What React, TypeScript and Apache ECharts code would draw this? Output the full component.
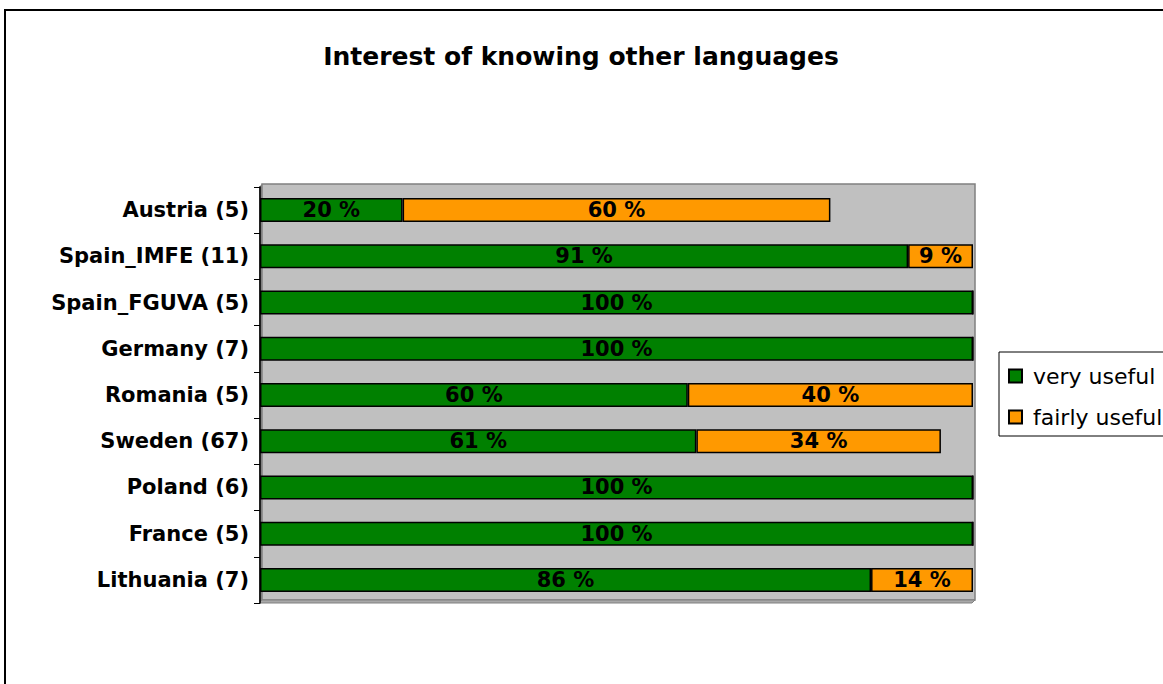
import React, { useEffect, useRef } from "react";
import * as echarts from "echarts";

const categories = [
  "Austria (5)",
  "Spain_IMFE (11)",
  "Spain_FGUVA (5)",
  "Germany (7)",
  "Romania (5)",
  "Sweden (67)",
  "Poland (6)",
  "France (5)",
  "Lithuania (7)",
];
const veryUseful = [20, 90.9, 100, 100, 60, 61.2, 100, 100, 85.7];
const fairlyUseful = [60, 9.1, 0, 0, 40, 34.3, 0, 0, 14.3];
const seriesNames = ["very useful", "fairly useful"];
const titleText = "Interest of knowing other languages";

const FONT = "'DejaVu Sans', Verdana, sans-serif";

export default function App() {
  const ref = useRef<HTMLDivElement>(null);
  useEffect(() => {
    if (!ref.current) return;
    const chart = echarts.init(ref.current, undefined, { renderer: "svg" });
    const label = {
      show: true,
      position: "inside",
      color: "#000",
      fontWeight: "bold",
      fontSize: 21,
      fontFamily: FONT,
      formatter: (p: any) => (p.value ? `${Math.round(p.value)} %` : ""),
    };
    chart.setOption({
      animation: false,
      backgroundColor: "#fff",
      title: {
        text: titleText,
        left: 576,
        textAlign: "center",
        top: 39,
        textStyle: { fontFamily: FONT, fontSize: 25, fontWeight: "bold", color: "#000" },
      },
      graphic: [
        {
          type: "rect",
          z: 0,
          shape: { x: 5, y: 10, width: 1170, height: 700 },
          style: { fill: "none", stroke: "#000", lineWidth: 2 },
        },
        {
          type: "rect",
          z: 0,
          shape: { x: 262, y: 184, width: 713, height: 416 },
          style: { fill: "#c0c0c0", stroke: "#808080", lineWidth: 1.5 },
        },
        {
          type: "polygon",
          z: 0,
          shape: { points: [[259, 187], [262, 184], [262, 600], [259, 603]] },
          style: { fill: "#808080" },
        },
        {
          type: "polygon",
          z: 0,
          shape: { points: [[259, 603], [262, 600], [975, 600], [972, 603]] },
          style: { fill: "#a8a8a8", stroke: "#808080", lineWidth: 1 },
        },
        {
          type: "rect",
          z: 0,
          shape: { x: 999, y: 352, width: 200, height: 84 },
          style: { fill: "#fff", stroke: "#000", lineWidth: 1 },
        },
      ],
      legend: {
        orient: "vertical",
        left: 1008,
        top: 365,
        padding: 0,
        itemWidth: 13,
        itemHeight: 13,
        itemGap: 19,
        icon: "rect",
        z: 5,
        data: seriesNames,
        textStyle: { fontFamily: FONT, fontSize: 22, color: "#000", lineHeight: 22, padding: [0, 0, 0, 6] },
      },
      grid: { left: 260, top: 187, width: 713, height: 416, containLabel: false },
      xAxis: {
        type: "value",
        min: 0,
        max: 100,
        show: false,
        splitLine: { show: false },
      },
      yAxis: {
        type: "category",
        inverse: true,
        data: categories,
        axisLine: { show: true, lineStyle: { color: "#000", width: 1.5 } },
        axisTick: { show: true, length: 6, lineStyle: { color: "#000" } },
        axisLabel: {
          margin: 11,
          color: "#000",
          fontWeight: "bold",
          fontSize: 21,
          fontFamily: FONT,
        },
      },
      series: [
        {
          name: seriesNames[0],
          type: "bar",
          stack: "total",
          barWidth: 24,
          data: veryUseful,
          itemStyle: { color: "#008000", borderColor: "#000", borderWidth: 1.5 },
          label,
        },
        {
          name: seriesNames[1],
          type: "bar",
          stack: "total",
          barWidth: 24,
          data: fairlyUseful,
          itemStyle: { color: "#ff9900", borderColor: "#000", borderWidth: 1.5 },
          label,
        },
      ],
    });
    return () => chart.dispose();
  }, []);
  return (
    <div
      ref={ref}
      style={{ position: "fixed", left: 0, top: 0, width: 1163, height: 684 }}
    />
  );
}
